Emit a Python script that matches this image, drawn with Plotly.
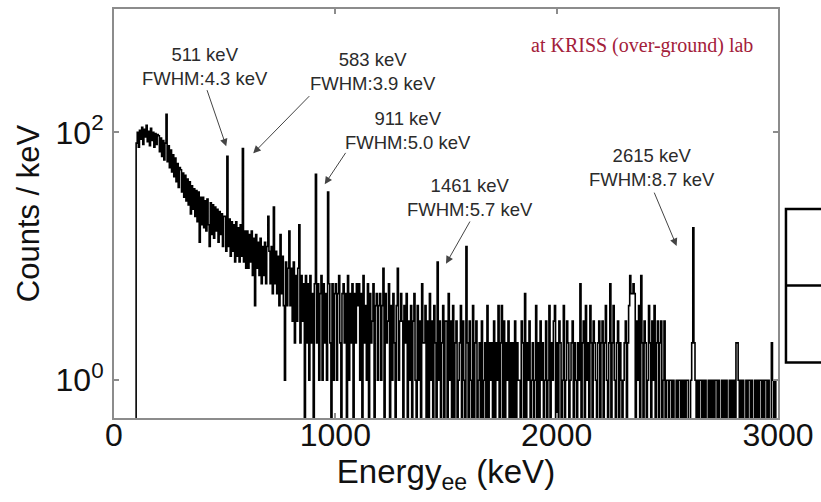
import numpy as np
import plotly.graph_objects as go

# ---------------- data ----------------
bin_width_keV = 5
# counts / keV in 5 keV bins, 0 - 3000 keV (20 bins per 100 keV row)
counts_0_500 = [
    0, 0, 0, 0, 0, 0, 0, 0, 0, 0, 0, 0, 0, 0, 0, 0, 0, 0, 0, 0,
    82, 100, 76, 104, 88, 110, 80, 106, 92, 114, 84, 102, 78, 108, 86, 100, 76, 98, 80, 96,
    94, 70, 90, 64, 86, 60, 82, 140, 58, 78, 52, 72, 48, 66, 44, 62, 40, 56, 36, 52,
    50, 33, 47, 30, 45, 28, 42, 26, 40, 22, 37, 24, 35, 21, 34, 19, 33, 13, 30, 18,
    30, 17, 28, 16, 29, 18, 12, 27, 15, 26, 14, 25, 16, 24, 13, 23, 15, 22, 12, 21,
]
counts_500_1000 = [
    21, 11, 64, 12, 20, 10, 19, 11, 18, 9, 19, 10, 17, 9, 18, 10, 74, 9, 16, 8,
    16, 8, 15, 9, 16, 7, 14, 4, 15, 8, 13, 7, 14, 6, 12, 7, 13, 6, 12, 21,
    11, 6, 12, 5, 25, 6, 11, 5, 10, 4, 15, 5, 10, 4, 1, 9, 4, 8, 16, 4,
    8, 3, 9, 2, 7, 3, 8, 18, 2, 7, 3, 6, 0, 7, 2, 6, 1, 7, 2, 5,
    0, 6, 46, 2, 6, 1, 5, 7, 1, 6, 2, 5, 1, 33, 6, 2, 0, 6, 1, 5,
]
counts_1000_1500 = [
    6, 1, 5, 7, 2, 0, 5, 6, 2, 5, 0, 7, 1, 5, 2, 6, 0, 5, 2, 6,
    4, 6, 1, 5, 0, 7, 2, 4, 1, 6, 0, 5, 2, 3, 6, 0, 4, 5, 1, 4,
    5, 1, 4, 8, 0, 5, 2, 3, 6, 0, 4, 1, 5, 2, 0, 4, 8, 1, 3, 5,
    3, 0, 4, 2, 5, 0, 3, 1, 4, 0, 3, 5, 1, 0, 4, 1, 3, 0, 6, 2,
    2, 4, 0, 3, 0, 5, 1, 3, 0, 4, 2, 0, 9, 1, 3, 0, 2, 4, 0, 3,
]
counts_1500_2000 = [
    3, 0, 5, 1, 3, 0, 4, 0, 2, 3, 0, 1, 2, 4, 0, 3, 1, 0, 12, 2,
    0, 3, 1, 0, 4, 0, 2, 3, 0, 1, 2, 0, 3, 0, 1, 2, 0, 4, 0, 2,
    1, 2, 0, 3, 0, 2, 1, 4, 0, 2, 4, 0, 3, 0, 2, 1, 3, 0, 2, 0,
    2, 0, 3, 0, 2, 1, 1, 0, 3, 2, 0, 5, 0, 2, 1, 3, 0, 1, 2, 0,
    1, 4, 0, 2, 0, 3, 1, 2, 0, 1, 3, 0, 1, 4, 0, 2, 1, 3, 4, 0,
]
counts_2000_2500 = [
    2, 0, 3, 2, 0, 1, 4, 0, 1, 3, 2, 0, 1, 2, 3, 0, 2, 1, 0, 2,
    1, 6, 0, 2, 3, 0, 4, 1, 2, 0, 4, 2, 0, 3, 2, 1, 0, 2, 3, 0,
    2, 3, 0, 2, 4, 1, 0, 2, 6, 0, 2, 4, 1, 0, 2, 3, 0, 2, 1, 0,
    1, 2, 3, 0, 2, 4, 7, 5, 5, 6, 5, 0, 3, 1, 4, 0, 7, 2, 0, 3,
    2, 0, 1, 4, 2, 0, 3, 1, 4, 0, 2, 3, 0, 2, 3, 0, 1, 3, 0, 1,
]
counts_2500_3000 = [
    1, 0, 1, 1, 0, 1, 0, 0, 1, 0, 1, 1, 0, 1, 0, 1, 0, 1, 1, 0,
    0, 1, 2, 17, 2, 1, 0, 1, 0, 1, 1, 0, 1, 0, 1, 0, 0, 1, 0, 1,
    0, 1, 0, 1, 1, 0, 1, 0, 0, 1, 0, 1, 0, 1, 0, 0, 1, 0, 1, 0,
    1, 0, 2, 2, 1, 0, 1, 0, 1, 0, 0, 1, 0, 1, 1, 0, 1, 0, 0, 1,
    0, 1, 0, 1, 1, 0, 1, 0, 1, 1, 0, 1, 0, 0, 2, 1, 0, 1, 0, 0,
]

peak_energies = [511, 583, 911, 1461, 2615]
peak_fwhm = [4.3, 3.9, 5.0, 5.7, 8.7]

x_tick_values = [0, 1000, 2000, 3000]
x_tick_labels = ["0", "1000", "2000", "3000"]
y_tick_values = [1, 100]
y_tick_labels = ["10<sup>0</sup>", "10<sup>2</sup>"]

# ---------------- build histogram ----------------
counts = np.array(counts_0_500 + counts_500_1000 + counts_1000_1500 +
                  counts_1500_2000 + counts_2000_2500 + counts_2500_3000, dtype=float)
edges = np.arange(0, 3000 + bin_width_keV, bin_width_keV)
# empty bins are drawn down to the bottom of the log axis
y_plot = np.where(counts > 0, counts, 0.05)
x_step = edges
y_step = np.append(y_plot, y_plot[-1])

fig = go.Figure()
fig.add_trace(go.Scatter(
    x=x_step, y=y_step, mode="lines", line=dict(color="black", width=1.6, shape="hv"),
    showlegend=False, hoverinfo="skip"))

# ---------------- annotations ----------------
# (text centre energy, text centre log10 y, arrow tail E, tail log y, head E, head log y)
label_layout = [
    (409, 2.534, 418, 2.353, 507, 1.888),
    (1172, 2.490, 889, 2.305, 629, 1.831),
    (1329, 2.016, 1051, 1.847, 952, 1.582),
    (1608, 1.478, 1612, 1.293, 1500, 0.940),
    (2429, 1.719, 2438, 1.526, 2542, 1.084),
]
annotations = []
for e, fw, (tx, ty, ax, ay, hx, hy) in zip(peak_energies, peak_fwhm, label_layout):
    annotations.append(dict(
        x=tx, y=ty, xref="x", yref="y", showarrow=False,
        text=f"{e} keV<br>FWHM:{fw:.1f} keV",
        font=dict(family="Arial, Liberation Sans, sans-serif", size=18.5, color="#2b2b2b"),
        xanchor="center", yanchor="middle", align="center"))
    annotations.append(dict(
        x=hx, y=hy, xref="x", yref="y", ax=ax, ay=ay, axref="x", ayref="y",
        text="", showarrow=True, arrowhead=2, arrowsize=1.5, arrowwidth=1,
        arrowcolor="#444444"))

annotations.append(dict(
    x=2387, y=2.70, xref="x", yref="y", showarrow=False,
    text="at KRISS (over-ground) lab",
    font=dict(family="Liberation Serif, Times New Roman, serif", size=20, color="#a3203a"),
    xanchor="center", yanchor="middle"))

fig.update_layout(
    width=821, height=502,
    margin=dict(l=114, r=39, t=7, b=84),
    paper_bgcolor="white", plot_bgcolor="white",
    annotations=annotations,
    shapes=[
        dict(type="rect", xref="paper", yref="paper", x0=1.012, x1=1.2, y0=0.136, y1=0.511,
             line=dict(color="black", width=2.5)),
        dict(type="line", xref="paper", yref="paper", x0=1.012, x1=1.2, y0=0.324, y1=0.324,
             line=dict(color="black", width=2.5)),
    ],
)

x_font = dict(family="Arial, Liberation Sans, sans-serif", size=32, color="#111111")
y_font = dict(family="Arial, Liberation Sans, sans-serif", size=32, color="#111111")
fig.update_xaxes(
    range=[0, 3000], tickvals=x_tick_values, ticktext=x_tick_labels,
    showgrid=False, zeroline=False,
    showline=True, linecolor="#8c8c8c", linewidth=2, mirror="ticks",
    ticks="inside", ticklen=5, tickcolor="#8c8c8c", tickwidth=1.5,
    tickfont=x_font, ticklabelstandoff=-12,
    title=dict(text="Energy<sub>ee</sub> (keV)",
               font=dict(family="Arial, Liberation Sans, sans-serif", size=33, color="#111111"),
               standoff=0),
)
fig.update_yaxes(
    type="log", range=[-0.305, 2.996], tickvals=y_tick_values, ticktext=y_tick_labels,
    showgrid=False, zeroline=False,
    showline=True, linecolor="#8c8c8c", linewidth=2, mirror="ticks",
    ticks="inside", ticklen=5, tickcolor="#8c8c8c", tickwidth=1.5,
    tickfont=y_font, ticklabelstandoff=2,
    title=dict(text="Counts / keV",
               font=dict(family="Arial, Liberation Sans, sans-serif", size=31, color="#111111"),
               standoff=7),
)

fig.write_html("out.html")
